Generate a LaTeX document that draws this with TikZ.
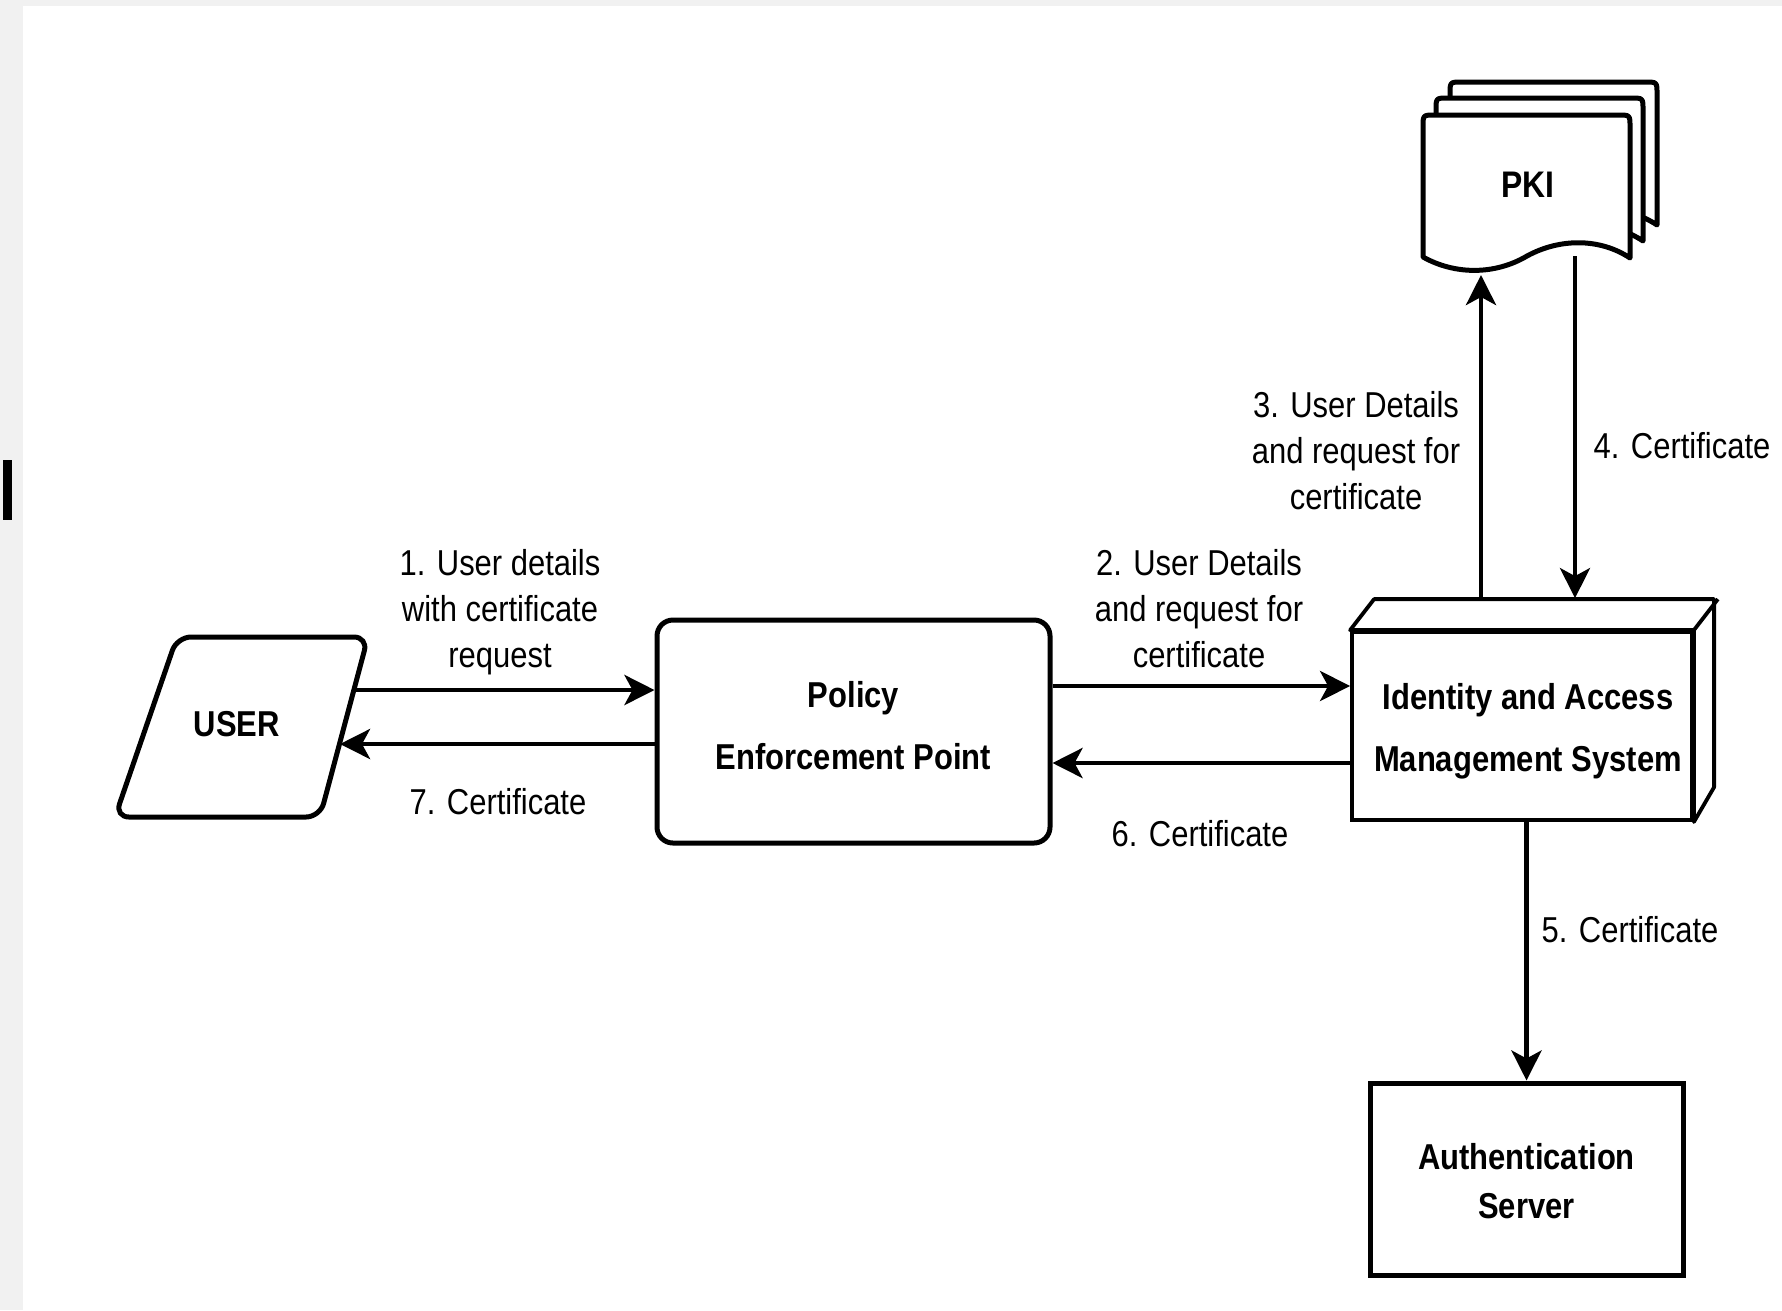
\documentclass[tikz,border=0pt]{standalone}
\usepackage{fontspec}
\setmainfont{Liberation Sans}[FakeStretch=0.86]
\usetikzlibrary{arrows.meta,calc}
\definecolor{bggray}{HTML}{F1F1F1}
\newcommand\pkipage[2]{%
  \draw[pagestyle, shift={(#1,#2)}]
    (1423,257) -- (1423,127) .. controls (1423,115) .. (1435,115)
    -- (1618,115) .. controls (1630,115) .. (1630,127)
    -- (1630,258) .. controls (1600,238) and (1560,238) .. (1527,256)
    .. controls (1495,275) and (1455,275) .. (1423,257) -- cycle;}
\begin{document}
\begin{tikzpicture}[x=1pt,y=-1pt,
  box/.style={draw, line width=5pt, fill=white, inner sep=0pt},
  boxtext/.style={align=center, inner sep=0pt, font=\bfseries\fontsize{36}{62}\selectfont},
  lbl/.style={align=center, inner sep=0pt, font=\fontsize{36}{46}\selectfont},
  arr/.style={line width=4.8pt, -{Stealth[length=30pt,width=30pt,inset=8pt]}},
  pagestyle/.style={line width=5pt, fill=white, line join=round},
  cube/.style={line width=3.8pt, line join=round}]
\fill[bggray] (0,0) rectangle (1782,1310);
\useasboundingbox (0,0) rectangle (1782,1310);
\fill[white] (23,6) rectangle (1782,1310);
\fill[black] (3,460) rectangle (12,520);

% USER parallelogram
\draw[line width=5pt, rounded corners=14pt, fill=white]
  (177,637) -- (368,637) -- (320,817) -- (115,817) -- cycle;
\node[font=\bfseries\fontsize{36}{44}\selectfont, inner sep=0pt] (user) at (237,724) {USER};
\coordinate (u1) at (354,690);
\coordinate (u7) at (340,744);

% Policy Enforcement Point
\node[box, rounded corners=16pt, minimum width=393pt, minimum height=223pt] (pep)
  at (853.5,731.5) {};
\node[boxtext] (peptext) at ($(pep.center)+(0,-6)$) {Policy\\Enforcement Point};

% Identity and Access Management System
\node[box, line width=3.8pt, minimum width=340pt, minimum height=188pt] (iam)
  at (1522,726) {};
\draw[cube, fill=white] (iam.north west) -- ++(24,-31) -- ++(340,0) -- ++(0,188)
  -- (iam.south east) -- (iam.north east) -- cycle;
\draw[cube] (iam.north east) -- ++(24,-31);
\node[boxtext] (iamtext) at ($(iam.center)+(6,5)$) {Identity and Access\\Management System};
\coordinate (iamtop) at ($(iam.north)+(0,-32)$);

% PKI
\pkipage{27}{-33}
\pkipage{13}{-17}
\pkipage{0}{0}
\node[font=\bfseries\fontsize{37}{44}\selectfont, inner sep=0pt] (pki) at (1528,185) {PKI};
\coordinate (pk3) at (1481,275);
\coordinate (pk4) at (1575,256);

% Authentication Server
\node[box, minimum width=313pt, minimum height=192pt] (auth) at (1526.5,1179) {};
\node[boxtext, font=\bfseries\fontsize{36}{49}\selectfont] (authtext)
  at ($(auth.center)+(0,2.5)$) {Authentication\\Server};

% level coordinates
\coordinate (y2) at (0,686);
\coordinate (y6) at (0,763);

% connectors
\draw[arr] (u1) -- (pep.west |- u1);
\draw[arr] (pep.west |- u7) -- (u7);
\draw[arr] (pep.east |- y2) -- (iam.west |- y2);
\draw[arr] (iam.west |- y6) -- (pep.east |- y6);
\draw[arr] (pk3 |- iamtop) -- (pk3);
\draw[arr] (pk4) -- (pk4 |- iamtop);
\draw[arr] (iam.south -| auth.north) -- (auth.north);

% labels
\node[lbl] (l1) at (500,612.5) {1. User details\\with certificate\\request};
\node[lbl] (l7) at (498,802) {7. Certificate};
\node[lbl] (l2) at (1199,609) {2. User Details\\and request for\\certificate};
\node[lbl] (l6) at (1200,834) {6. Certificate};
\node[lbl] (l3) at (1356,451) {3. User Details\\and request for\\certificate};
\node[lbl] (l4) at (1682,446) {4. Certificate};
\node[lbl] (l5) at (1630,930) {5. Certificate};
\end{tikzpicture}
\end{document}
